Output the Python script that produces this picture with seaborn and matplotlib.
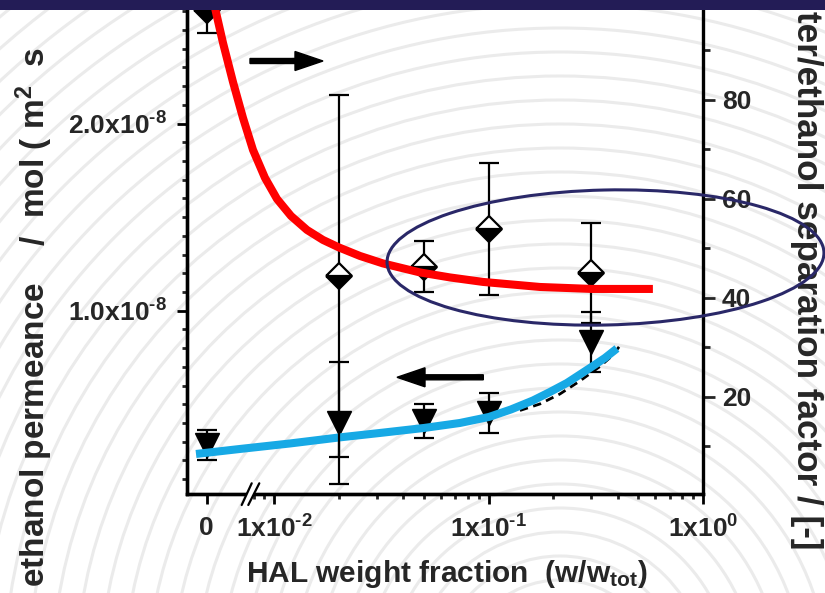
import numpy as np
import matplotlib
matplotlib.use("Agg")
import matplotlib.pyplot as plt
import seaborn as sns
from matplotlib.patches import Ellipse, Circle, FancyArrow, Rectangle
from matplotlib.lines import Line2D
from matplotlib.transforms import IdentityTransform
from matplotlib.ticker import FixedLocator, FixedFormatter, NullFormatter

# ---------------- data ----------------
hal_frac = [0.0, 0.02, 0.05, 0.1, 0.3]
perm = [0.28e-8, 0.40e-8, 0.411e-8, 0.454e-8, 0.833e-8]
perm_err = [0.08e-8, 0.325e-8, 0.09e-8, 0.107e-8, 0.16e-8]
sep = [98.2, 44.4, 46.3, 53.9, 45.0]
sep_err = [4.7, 36.5, 5.1, 13.3, 10.2]

sep_fit_x = [0.00082, 0.001582, 0.003108, 0.00501, 0.00692, 0.007955, 0.009051,
             0.010294, 0.011965, 0.014206, 0.016868, 0.02003, 0.025102, 0.032137,
             0.047808, 0.065988, 0.094059, 0.173482, 0.303232, 0.583744]
sep_fit_y = [102.24, 98.6, 91.53, 83.64, 76.36, 69.89, 64.23, 59.98, 56.54, 53.71,
             51.69, 50.17, 48.45, 46.94, 45.12, 44.11, 43.2, 42.18, 41.78, 41.78]

perm_fit_x = [-0.00204, 0.006339, 0.011836, 0.02003, 0.031117, 0.049909, 0.073477,
              0.100323, 0.127052, 0.160961, 0.193161, 0.231845, 0.29688, 0.348657,
              0.396773]
perm_fit_y = [0.2345e-8, 0.2612e-8, 0.2906e-8, 0.3226e-8, 0.3467e-8, 0.3734e-8,
              0.4001e-8, 0.4322e-8, 0.4722e-8, 0.5203e-8, 0.5657e-8, 0.6138e-8,
              0.6939e-8, 0.7473e-8, 0.7981e-8]

perm_fit2_x = [0.139963, 0.173482, 0.215037, 0.266586, 0.33044, 0.375841, 0.418339]
perm_fit2_y = [0.4669e-8, 0.5016e-8, 0.555e-8, 0.6245e-8, 0.7019e-8, 0.758e-8,
               0.8259e-8]

x_major = [0.0, 0.01, 0.1, 1.0]
x_major_labels = ["0", r"$1x10^{\text{-}2}$", r"$1x10^{\text{-}1}$", r"$1x10^{0}$"]
x_minor = [0.008, 0.009] + [k * 0.01 for k in range(2, 10)] + [k * 0.1 for k in range(2, 10)]
yl_major = [1e-8, 2e-8]
yl_labels = [r"$1.0x10^{\text{-}8}$", r"$2.0x10^{\text{-}8}$"]
yl_minor = [k * 1e-9 for k in range(1, 27) if k not in (10, 20)]
yr_major = [20, 40, 60, 80, 100]
yr_labels = ["20", "40", "60", "80", ""]
yr_minor = [10, 30, 50, 70, 90]

# ---------------- style ----------------
sns.set_style("ticks")
plt.rcParams['font.family'] = ['Liberation Sans', 'DejaVu Sans']
plt.rcParams['font.weight'] = 'bold'
plt.rcParams['mathtext.fontset'] = 'custom'
plt.rcParams['mathtext.rm'] = 'Liberation Sans:bold'
plt.rcParams['mathtext.it'] = 'Liberation Sans:bold'
plt.rcParams['mathtext.bf'] = 'Liberation Sans:bold'
plt.rcParams['mathtext.sf'] = 'Liberation Sans:bold'
plt.rcParams['mathtext.default'] = 'rm'

# broken log axis: linear piece [0, B] then log10 beyond B
B = 0.0073
UB = np.log10(B)
U0 = -2.3153


def fwd(x):
    x = np.asarray(x, dtype=float)
    with np.errstate(all='ignore'):
        lg = np.log10(np.maximum(x, B))
    lin = U0 + x / B * (UB - U0)
    return np.where(x >= B, lg, lin)


def inv(u):
    u = np.asarray(u, dtype=float)
    with np.errstate(all='ignore'):
        ex = np.power(10.0, np.minimum(u, 10))
    lin = (u - U0) / (UB - U0) * B
    return np.where(u >= UB, ex, lin)


W, H = 825, 593
fig = plt.figure(figsize=(W / 100, H / 100), dpi=100)
fig.patch.set_facecolor('white')
idt = IdentityTransform()

# decorative slide background arcs
for r in np.arange(100, 1400, 24):
    fig.add_artist(Circle((560, H - 680), r, fill=False, ec='#EBEBEB', lw=2.2,
                          transform=idt, zorder=-5))

ax_bottom = 494.3
ax = fig.add_axes([187 / W, (H - ax_bottom) / H, (703 - 187) / W, ax_bottom / H])
ax.set_facecolor('none')
ax.set_xscale('function', functions=(fwd, inv))
ax2 = ax.twinx()
ax2.set_facecolor('none')

# permeance (left axis)
ax.errorbar(hal_frac, perm, yerr=perm_err, fmt='v', color='black', ms=17,
            capsize=7, elinewidth=1.6, capthick=1.6, zorder=3)
sns.lineplot(x=perm_fit2_x, y=perm_fit2_y, ax=ax, color='black', lw=2,
             linestyle=(0, (3, 2)), sort=False, estimator=None, zorder=4)
sns.lineplot(x=perm_fit_x, y=perm_fit_y, ax=ax, color='#17A9E5', lw=5.8,
             sort=False, estimator=None, zorder=5)
for l in ax.lines[-2:]:
    l.set_solid_capstyle('butt')
    l.set_solid_joinstyle('round')

# separation factor (right axis)
ax2.errorbar(hal_frac, sep, yerr=sep_err, fmt='D', ms=13.5, mfc='black',
             markerfacecoloralt='white', fillstyle='bottom', mec='black', mew=1.6,
             ecolor='black', capsize=7, elinewidth=1.6, capthick=1.6, zorder=3)
sns.lineplot(x=sep_fit_x, y=sep_fit_y, ax=ax2, color='#FF0000', lw=5.8,
             sort=False, estimator=None, zorder=5)
ax2.lines[-1].set_solid_capstyle('butt')
ax2.lines[-1].set_solid_joinstyle('round')

# limits
ax.set_xlim(float(inv(-2.4072)), 1.0)
ax.set_ylim(1.9e-10, 2.66e-8)
ax2.set_ylim(0.26, 100.2)

# ticks
ax.xaxis.set_major_locator(FixedLocator(x_major))
ax.xaxis.set_major_formatter(FixedFormatter(x_major_labels))
ax.xaxis.set_minor_locator(FixedLocator(x_minor))
ax.xaxis.set_minor_formatter(NullFormatter())
ax.yaxis.set_major_locator(FixedLocator(yl_major))
ax.yaxis.set_major_formatter(FixedFormatter(yl_labels))
ax.yaxis.set_minor_locator(FixedLocator(yl_minor))
ax2.yaxis.set_major_locator(FixedLocator(yr_major))
ax2.yaxis.set_major_formatter(FixedFormatter(yr_labels))
ax2.yaxis.set_minor_locator(FixedLocator(yr_minor))

ax.tick_params(axis='both', which='major', direction='out', length=7.5, width=2,
               labelsize=19, color='black')
ax.tick_params(axis='both', which='minor', direction='out', length=3.8, width=2)
ax.tick_params(axis='y', which='major', pad=7)
ax.tick_params(axis='x', which='major', pad=8)
ax2.tick_params(axis='y', which='major', direction='out', length=8.5, width=2,
                labelsize=19, pad=5)
ax2.tick_params(axis='y', which='minor', direction='out', length=5, width=2)
for a in (ax, ax2):
    for s in a.spines.values():
        s.set_linewidth(2.4)
        s.set_color('black')
    a.spines['top'].set_visible(False)
    a.set_xlabel('')
    a.set_ylabel('')
    for t in a.get_xticklabels() + a.get_yticklabels():
        t.set_fontweight('bold')
ax.spines['right'].set_visible(False)

# axis labels
fig.text(447 / W, (H - 581.7) / H, "HAL weight fraction  (w/w$_{tot}$)",
         ha='center', va='baseline', fontsize=21.5, fontweight='bold')
fig.text(45 / W, (H - 587) / H, "ethanol permeance    /  mol ( m$^2$  s",
         rotation=90, rotation_mode='anchor', ha='left', va='baseline',
         fontsize=24, fontweight='bold')
fig.text(797 / W, (H - 550) / H, "ter/ethanol separation factor / [-]",
         rotation=270, rotation_mode='anchor', ha='right', va='baseline',
         fontsize=25.3, fontweight='bold')

# axis break marks
fig.add_artist(Line2D([245, 255.5], [H - 505, H - 483.3], color='white', lw=4,
                      transform=idt, zorder=6))
for x0, x1 in ((241.7, 251.7), (248.3, 259.3)):
    fig.add_artist(Line2D([x0, x1], [H - 505, H - 483.3], color='black', lw=1.6,
                          transform=idt, zorder=7))

# arrows
fig.add_artist(FancyArrow(250, H - 61, 73, 0, width=5, head_width=19, head_length=28,
                          length_includes_head=True, fc='black', ec='black',
                          transform=idt, zorder=8))
fig.add_artist(FancyArrow(483.3, H - 377.3, -86.3, 0, width=5, head_width=19,
                          head_length=28, length_includes_head=True, fc='black',
                          ec='black', transform=idt, zorder=8))

# highlight ellipse
fig.add_artist(Ellipse((605.5, H - 257.5), 437, 135, angle=1.3, fill=False,
                       ec='#2A2868', lw=2.2, transform=idt, zorder=9))

# slide top band
fig.add_artist(Rectangle((0, H - 10), W, 10, fc='#231C56', ec='none',
                         transform=idt, zorder=10))

fig.savefig('out.png', dpi=100, facecolor='white')
